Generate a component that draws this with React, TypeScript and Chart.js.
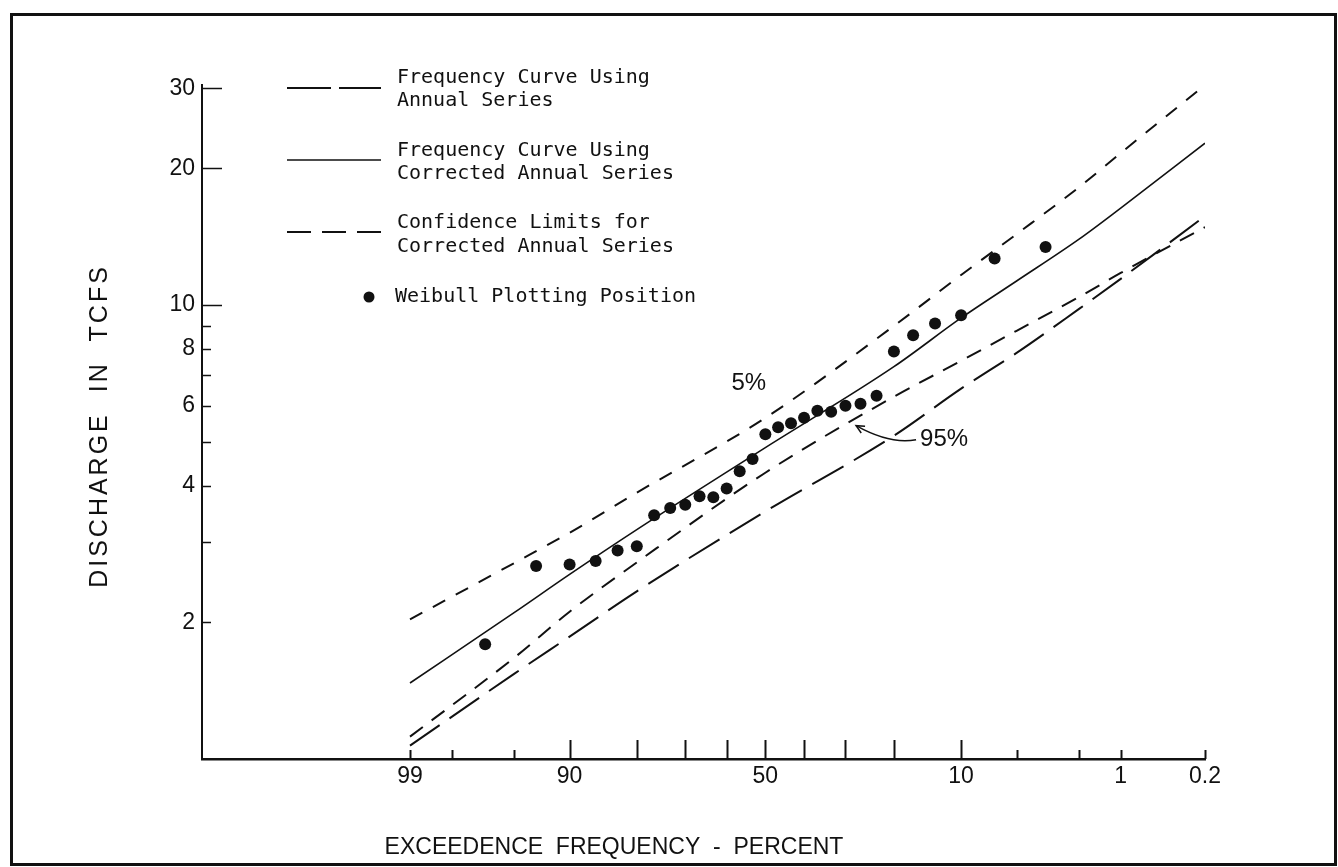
import React, { useEffect, useRef } from 'react';
import { Chart, registerables } from 'chart.js';

Chart.register(...registerables);

// ---------- DATA ----------
// Weibull plotting positions (exceedance %, discharge TCFS)
const weibullExceedance = [3.33, 6.67, 10.0, 13.33, 16.67, 20.0, 23.33, 26.67, 30.0, 33.33, 36.67, 40.0, 43.33, 46.67, 50.0, 53.33, 56.67, 60.0, 63.33, 66.67, 70.0, 73.33, 76.67, 80.0, 83.33, 86.67, 90.0, 93.33, 96.67];
const weibullDischarge = [13.41, 12.66, 9.49, 9.10, 8.57, 7.90, 6.31, 6.06, 6.00, 5.82, 5.85, 5.64, 5.49, 5.38, 5.19, 4.58, 4.30, 3.94, 3.77, 3.79, 3.63, 3.57, 3.44, 2.94, 2.88, 2.73, 2.68, 2.66, 1.79];

// Curves sampled at these exceedance percentages
const curveExceedance = [99, 95, 90, 80, 50, 20, 10, 5, 2, 1, 0.2];
const annualSeries = [1.07, 1.54, 1.86, 2.34, 3.51, 5.15, 6.54, 7.84, 9.80, 11.41, 15.69];
const correctedSeries = [1.47, 2.10, 2.55, 3.20, 4.85, 7.31, 9.36, 11.29, 13.96, 16.34, 22.7];
const upperLimit5 = [2.03, 2.70, 3.15, 3.86, 5.64, 8.99, 11.64, 14.32, 18.17, 21.6, 30.5];
const lowerLimit95 = [1.12, 1.67, 2.11, 2.71, 4.27, 6.28, 7.53, 8.77, 10.41, 11.76, 14.84];

// Axis ticks
const xTickExceedance = [99, 98, 95, 90, 80, 70, 60, 50, 40, 30, 20, 10, 5, 2, 1, 0.2];
const xLabelled = [99, 90, 50, 10, 1, 0.2];
const xLongTicks = [90, 80, 70, 60, 50, 40, 30, 20, 10];
const xAxisMinExceedance = 99.9887;
const xAxisMaxExceedance = 0.2;

const yTicks = [2, 3, 4, 5, 6, 7, 8, 9, 10, 20, 30];
const yLabelled = [2, 4, 6, 8, 10, 20, 30];
const yLongTicks = [10, 20, 30];
const yMin = 1;
const yMax = 30.5;

const xTitle = 'EXCEEDENCE  FREQUENCY  -  PERCENT';
const yTitle = 'DISCHARGE  IN  TCFS';

const legendLines = [
  ['Frequency Curve Using', 'Annual Series'],
  ['Frequency Curve Using', 'Corrected Annual Series'],
  ['Confidence Limits for', 'Corrected Annual Series'],
  ['Weibull Plotting Position'],
];

const annot5 = { text: '5%', exceed: 54.3, value: 6.71 };
const annot95 = { text: '95%', exceed: 12.1, value: 5.05 };

// ---------- helpers ----------
function normInv(p: number): number {
  const a = [-3.969683028665376e1, 2.209460984245205e2, -2.759285104469687e2, 1.38357751867269e2, -3.066479806614716e1, 2.506628277459239];
  const b = [-5.447609879822406e1, 1.615858368580409e2, -1.556989798598866e2, 6.680131188771972e1, -1.328068155288572e1];
  const c = [-7.784894002430293e-3, -3.223964580411365e-1, -2.400758277161838, -2.549732539343734, 4.374664141464968, 2.938163982698783];
  const d = [7.784695709041462e-3, 3.224671290700398e-1, 2.445134137142996, 3.754408661907416];
  const pl = 0.02425;
  const ph = 1 - pl;
  let q: number, r: number;
  if (p < pl) {
    q = Math.sqrt(-2 * Math.log(p));
    return (((((c[0] * q + c[1]) * q + c[2]) * q + c[3]) * q + c[4]) * q + c[5]) / ((((d[0] * q + d[1]) * q + d[2]) * q + d[3]) * q + 1);
  }
  if (p <= ph) {
    q = p - 0.5;
    r = q * q;
    return ((((((a[0] * r + a[1]) * r + a[2]) * r + a[3]) * r + a[4]) * r + a[5]) * q) / (((((b[0] * r + b[1]) * r + b[2]) * r + b[3]) * r + b[4]) * r + 1);
  }
  q = Math.sqrt(-2 * Math.log(1 - p));
  return -(((((c[0] * q + c[1]) * q + c[2]) * q + c[3]) * q + c[4]) * q + c[5]) / ((((d[0] * q + d[1]) * q + d[2]) * q + d[3]) * q + 1);
}
const zOf = (exceedPct: number) => normInv(1 - exceedPct / 100);

const INK = '#111';
const SANS = 'Liberation Sans';
const MONO = 'DejaVu Sans Mono';

const curve = (vals: number[]) => curveExceedance.map((e, i) => ({ x: zOf(e), y: vals[i] }));

const overlayPlugin = {
  id: 'overlay',
  afterDraw(chart: any) {
    const { ctx, chartArea, scales } = chart;
    const xs = scales.x;
    const ys = scales.y;
    const L = chartArea.left;
    const T = chartArea.top;
    const B = chartArea.bottom;
    ctx.save();
    ctx.strokeStyle = INK;
    ctx.fillStyle = INK;
    ctx.setLineDash([]);
    // x ticks (inside)
    ctx.lineWidth = 2;
    for (const t of xTickExceedance) {
      const px = Math.round(xs.getPixelForValue(zOf(t))) + 0.5;
      const len = xLongTicks.includes(t) ? 19 : 9;
      ctx.beginPath();
      ctx.moveTo(px, B);
      ctx.lineTo(px, B - len);
      ctx.stroke();
    }
    // y ticks (inside)
    ctx.lineWidth = 1.5;
    for (const v of yTicks) {
      const py = Math.round(ys.getPixelForValue(v)) + 0.5;
      const len = yLongTicks.includes(v) ? 20 : 9;
      ctx.beginPath();
      ctx.moveTo(L, py);
      ctx.lineTo(L + len, py);
      ctx.stroke();
    }

    // axis titles
    ctx.textAlign = 'center';
    ctx.textBaseline = 'middle';
    ctx.font = `23px "${SANS}"`;
    ctx.fillText(xTitle, L + 412, B + 89);
    ctx.save();
    ctx.font = `25px "${SANS}"`;
    ctx.letterSpacing = '3px';
    ctx.translate(L - 102, (T + B) / 2 + 4);
    ctx.rotate(-Math.PI / 2);
    ctx.fillText(yTitle, 0, 0);
    ctx.restore();

    // legend
    const sx0 = L + 85;
    const sx1 = L + 179;
    const tx = L + 195;
    ctx.font = `20px "${MONO}"`;
    ctx.textAlign = 'left';
    ctx.textBaseline = 'middle';
    const rows = [
      { sy: T + 3, dash: [44, 8], w: 2, ty: [T - 7, T + 16] },
      { sy: T + 75, dash: [], w: 1.6, ty: [T + 66, T + 89] },
      { sy: T + 147, dash: [24, 11], w: 2, ty: [T + 138, T + 162] },
    ];
    rows.forEach((r, i) => {
      ctx.lineWidth = r.w;
      ctx.setLineDash(r.dash);
      ctx.beginPath();
      ctx.moveTo(sx0, r.sy);
      ctx.lineTo(sx1, r.sy);
      ctx.stroke();
      ctx.setLineDash([]);
      legendLines[i].forEach((line, j) => ctx.fillText(line, tx, r.ty[j]));
    });
    ctx.beginPath();
    ctx.arc(L + 167, T + 212, 5.5, 0, Math.PI * 2);
    ctx.fill();
    ctx.fillText(legendLines[3][0], tx - 2, T + 212);

    // annotations
    ctx.font = `24px "${SANS}"`;
    ctx.textAlign = 'center';
    const p5x = xs.getPixelForValue(zOf(annot5.exceed));
    const p5y = ys.getPixelForValue(annot5.value);
    ctx.fillText(annot5.text, p5x, p5y);
    const p95x = xs.getPixelForValue(zOf(annot95.exceed));
    const p95y = ys.getPixelForValue(annot95.value);
    ctx.fillText(annot95.text, p95x, p95y);
    // arrow from 95% label
    const sx = p95x - 28;
    const sy = p95y;
    const tipx = sx - 60;
    const tipy = sy - 14;
    const cx = sx - 26;
    const cy = sy + 5;
    ctx.lineWidth = 1.5;
    ctx.beginPath();
    ctx.moveTo(sx, sy);
    ctx.quadraticCurveTo(cx, cy, tipx, tipy);
    ctx.stroke();
    const ang = Math.atan2(tipy - cy, tipx - cx);
    const hl = 9;
    ctx.beginPath();
    ctx.moveTo(tipx - hl * Math.cos(ang - 0.45), tipy - hl * Math.sin(ang - 0.45));
    ctx.lineTo(tipx, tipy);
    ctx.lineTo(tipx - hl * Math.cos(ang + 0.45), tipy - hl * Math.sin(ang + 0.45));
    ctx.stroke();
    ctx.restore();
  },
};

export default function App() {
  const ref = useRef<HTMLCanvasElement>(null);
  useEffect(() => {
    const canvas = ref.current;
    if (!canvas) return;
    const chart = new Chart(canvas, {
      type: 'line',
      data: {
        datasets: [
          {
            label: 'Weibull Plotting Position',
            data: weibullExceedance.map((e, i) => ({ x: zOf(e), y: weibullDischarge[i] })),
            showLine: false,
            pointRadius: 6,
            pointBackgroundColor: INK,
            pointBorderWidth: 0,
            borderColor: INK,
          },
          {
            label: 'Frequency Curve Using Annual Series',
            data: curve(annualSeries),
            borderColor: INK,
            borderWidth: 2,
            borderDash: [36, 12],
            pointRadius: 0,
            cubicInterpolationMode: 'monotone',
            fill: false,
          },
          {
            label: 'Frequency Curve Using Corrected Annual Series',
            data: curve(correctedSeries),
            borderColor: INK,
            borderWidth: 1.6,
            pointRadius: 0,
            cubicInterpolationMode: 'monotone',
            fill: false,
          },
          {
            label: 'Confidence Limits (5%)',
            data: curve(upperLimit5),
            borderColor: INK,
            borderWidth: 2,
            borderDash: [14, 12],
            pointRadius: 0,
            cubicInterpolationMode: 'monotone',
            fill: false,
            clip: false,
          },
          {
            label: 'Confidence Limits (95%)',
            data: curve(lowerLimit95),
            borderColor: INK,
            borderWidth: 2,
            borderDash: [16, 11],
            pointRadius: 0,
            cubicInterpolationMode: 'monotone',
            fill: false,
          },
        ] as any,
      },
      options: {
        responsive: false,
        animation: false,
        devicePixelRatio: 1,
        layout: { padding: { top: 85, right: 133, bottom: 0, left: 0 } },
        plugins: { legend: { display: false }, tooltip: { enabled: false } },
        scales: {
          x: {
            type: 'linear',
            min: zOf(xAxisMinExceedance),
            max: zOf(xAxisMaxExceedance),
            grid: { display: false, drawTicks: false },
            border: { display: true, color: INK, width: 2.5 },
            ticks: {
              autoSkip: false,
              maxRotation: 0,
              padding: 4,
              color: INK,
              font: { family: SANS, size: 23 },
              callback: (_v: any, i: number) => {
                const t = xTickExceedance[i];
                return xLabelled.includes(t) ? String(t) : '';
              },
            },
            title: { display: false },
            afterBuildTicks: (s: any) => {
              s.ticks = xTickExceedance.map((t) => ({ value: zOf(t) }));
            },
            afterFit: (s: any) => {
              s.height = 108;
            },
          },
          y: {
            type: 'logarithmic',
            min: yMin,
            max: yMax,
            grid: { display: false, drawTicks: false },
            border: { display: true, color: INK, width: 2 },
            ticks: {
              autoSkip: false,
              padding: 7,
              color: INK,
              font: { family: SANS, size: 23 },
              callback: (v: any) => (yLabelled.includes(Number(v)) ? String(v) : ''),
            },
            title: { display: false },
            afterBuildTicks: (s: any) => {
              s.ticks = yTicks.map((v) => ({ value: v }));
            },
            afterFit: (s: any) => {
              s.width = 202;
            },
          },
        },
      } as any,
      plugins: [overlayPlugin],
    });
    return () => chart.destroy();
  }, []);

  return (
    <div style={{ position: 'fixed', left: 0, top: 0, width: 1338, height: 867, background: '#fff' }}>
      <canvas ref={ref} width={1338} height={867} style={{ position: 'absolute', left: 0, top: 0, width: 1338, height: 867 }} />
      <div
        style={{
          position: 'absolute',
          left: 10,
          top: 13,
          width: 1327,
          height: 853,
          border: '3px solid #111',
          boxSizing: 'border-box',
          pointerEvents: 'none',
        }}
      />
    </div>
  );
}
